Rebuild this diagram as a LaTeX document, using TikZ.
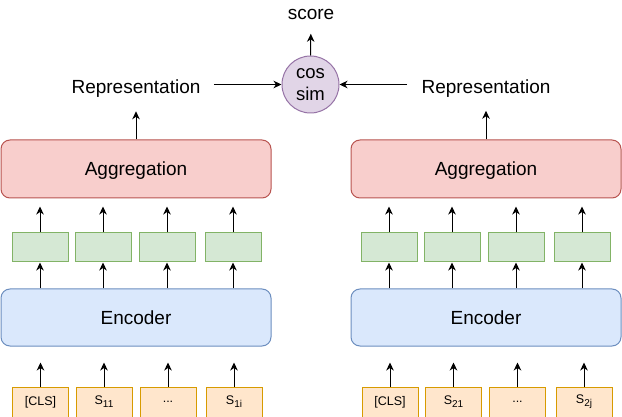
\documentclass[tikz,border=0pt]{standalone}
\usepackage{fontspec}
\setmainfont{Liberation Sans}
\usetikzlibrary{arrows.meta}

\definecolor{aggfill}{HTML}{F8CECC}
\definecolor{aggline}{HTML}{B85450}
\definecolor{encfill}{HTML}{DAE8FC}
\definecolor{encline}{HTML}{6C8EBF}
\definecolor{vecfill}{HTML}{D5E8D4}
\definecolor{vecline}{HTML}{82B366}
\definecolor{tokfill}{HTML}{FFE6CC}
\definecolor{tokline}{HTML}{D79B00}
\definecolor{simfill}{HTML}{E1D5E7}
\definecolor{simline}{HTML}{9673A6}

% token index, set lowered and a bit smaller
\newcommand{\tokidx}[1]{\raisebox{-3pt}{\fontsize{10}{12}\selectfont #1}}

\tikzset{every picture/.style={line width=1pt}}
\tikzset{
  bigtext/.style={font=\fontsize{19}{22}\selectfont, text height=13.6pt, text depth=0pt},
  aggbox/.style={bigtext, draw=aggline, fill=aggfill, rounded corners=9pt, minimum width=270pt, minimum height=58pt},
  encbox/.style={bigtext, draw=encline, fill=encfill, rounded corners=9pt, minimum width=270pt, minimum height=57pt},
  vecbox/.style={draw=vecline, fill=vecfill, minimum width=56pt, minimum height=29pt},
  tokbox/.style={draw=tokline, fill=tokfill, minimum width=56pt, minimum height=30pt, font=\fontsize{12.5}{14}\selectfont},
  simnode/.style={circle, draw=simline, fill=simfill, minimum size=57pt, inner sep=0pt, align=center, font=\fontsize{18.5}{21.5}\selectfont},
  arr/.style={-{Stealth[length=8pt,width=7.5pt,inset=2.5pt]}}
}

\begin{document}
\begin{tikzpicture}[x=1pt,y=1pt,yscale=-1,xscale=1]
\useasboundingbox (0,0) rectangle (622,417);

% top: score and similarity
\node [simnode] (sim) at (310.5,84.5) {cos\\sim};
\node [bigtext, inner sep=3pt] (score) at (311,12.5) {score};
\node [bigtext, inner sep=3pt] (repl) at (136,87) {Representation};
\node [bigtext, inner sep=3pt] (repr) at (486,86.5) {Representation};

% aggregation blocks
\node [aggbox] (aggl) at (136,169) {Aggregation};
\node [aggbox] (aggr) at (486,169) {Aggregation};

% token vectors, left
\node [vecbox] (vl1) at (40,247.5) {};
\node [vecbox] (vl2) at (103,247.5) {};
\node [vecbox] (vl3) at (167,247.5) {};
\node [vecbox] (vl4) at (233,247.5) {};
% token vectors, right
\node [vecbox] (vr1) at (389,247.5) {};
\node [vecbox] (vr2) at (452,247.5) {};
\node [vecbox] (vr3) at (516,247.5) {};
\node [vecbox] (vr4) at (582,247.5) {};

% encoder blocks
\node [encbox] (encl) at (136,317.5) {Encoder};
\node [encbox] (encr) at (486,317.5) {Encoder};

% input tokens, left
\node [tokbox] (tl1) at (40.5,402) {[CLS]};
\node [tokbox] (tl2) at (104,402) {S\tokidx{11}};
\node [tokbox] (tl3) at (168,402) {...};
\node [tokbox] (tl4) at (234,402) {S\tokidx{1i}};
% input tokens, right
\node [tokbox] (tr1) at (390,402) {[CLS]};
\node [tokbox] (tr2) at (453.5,402) {S\tokidx{21}};
\node [tokbox] (tr3) at (517.5,402) {...};
\node [tokbox] (tr4) at (584,402) {S\tokidx{2j}};

% tokens to encoder
\draw [arr, shorten >=16pt] (tl1.north) -- (tl1.north |- encl.south);
\draw [arr, shorten >=16pt] (tl2.north) -- (tl2.north |- encl.south);
\draw [arr, shorten >=16pt] (tl3.north) -- (tl3.north |- encl.south);
\draw [arr, shorten >=16pt] (tl4.north) -- (tl4.north |- encl.south);
\draw [arr, shorten >=16pt] (tr1.north) -- (tr1.north |- encr.south);
\draw [arr, shorten >=16pt] (tr2.north) -- (tr2.north |- encr.south);
\draw [arr, shorten >=16pt] (tr3.north) -- (tr3.north |- encr.south);
\draw [arr, shorten >=16pt] (tr4.north) -- (tr4.north |- encr.south);

% encoder to vectors
\draw [arr] (vl1.south |- encl.north) -- (vl1.south);
\draw [arr] (vl2.south |- encl.north) -- (vl2.south);
\draw [arr] (vl3.south |- encl.north) -- (vl3.south);
\draw [arr] (vl4.south |- encl.north) -- (vl4.south);
\draw [arr] (vr1.south |- encr.north) -- (vr1.south);
\draw [arr] (vr2.south |- encr.north) -- (vr2.south);
\draw [arr] (vr3.south |- encr.north) -- (vr3.south);
\draw [arr] (vr4.south |- encr.north) -- (vr4.south);

% vectors to aggregation
\draw [arr, shorten >=8pt] (vl1.north) -- (vl1.north |- aggl.south);
\draw [arr, shorten >=8pt] (vl2.north) -- (vl2.north |- aggl.south);
\draw [arr, shorten >=8pt] (vl3.north) -- (vl3.north |- aggl.south);
\draw [arr, shorten >=8pt] (vl4.north) -- (vl4.north |- aggl.south);
\draw [arr, shorten >=8pt] (vr1.north) -- (vr1.north |- aggr.south);
\draw [arr, shorten >=8pt] (vr2.north) -- (vr2.north |- aggr.south);
\draw [arr, shorten >=8pt] (vr3.north) -- (vr3.north |- aggr.south);
\draw [arr, shorten >=8pt] (vr4.north) -- (vr4.north |- aggr.south);

% aggregation to representation
\draw [arr, shorten >=14pt] (aggl.north) -- (aggl.north |- repl.south);
\draw [arr, shorten >=14pt] (aggr.north) -- (aggr.north |- repr.south);

% representation to similarity
\draw [arr, shorten <=10pt] (sim.west -| repl.east) -- (sim.west);
\draw [arr, shorten <=11pt] (sim.east -| repr.west) -- (sim.east);
\draw [arr, shorten >=11pt] (sim.north) -- (score.south);

\end{tikzpicture}
\end{document}
